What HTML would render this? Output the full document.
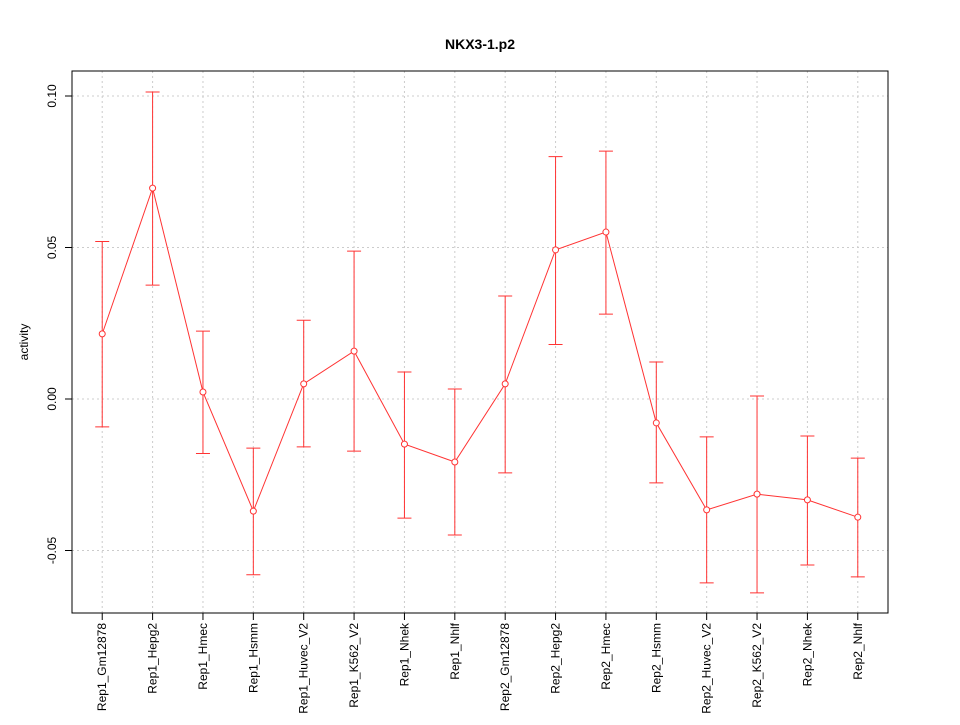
<!DOCTYPE html>
<html><head><meta charset="utf-8"><style>
body{margin:0;background:#fff}
svg text{font-family:"Liberation Sans",sans-serif;font-size:12px;fill:#000}
</style></head><body>
<svg id="chart" width="960" height="720">
<text x="480" y="49" text-anchor="middle" style="font-weight:bold;font-size:14px">NKX3-1.p2</text>
<text transform="translate(28,342) rotate(-90)" text-anchor="middle">activity</text>
<g id="grid"></g><g id="axes"></g><g id="marks"></g>
</svg>
<script>
const categories=["Rep1_Gm12878","Rep1_Hepg2","Rep1_Hmec","Rep1_Hsmm","Rep1_Huvec_V2","Rep1_K562_V2","Rep1_Nhek","Rep1_Nhlf","Rep2_Gm12878","Rep2_Hepg2","Rep2_Hmec","Rep2_Hsmm","Rep2_Huvec_V2","Rep2_K562_V2","Rep2_Nhek","Rep2_Nhlf"];
const values=[0.0215,0.0696,0.0023,-0.037,0.005,0.0158,-0.0149,-0.0208,0.005,0.0492,0.0551,-0.0079,-0.0366,-0.0314,-0.0333,-0.039];
const upper=[0.052,0.1013,0.0224,-0.0162,0.026,0.0488,0.0089,0.0033,0.034,0.080,0.0818,0.0122,-0.0125,0.001,-0.0122,-0.0195];
const lower=[-0.0092,0.0376,-0.018,-0.058,-0.0158,-0.0172,-0.0393,-0.0449,-0.0244,0.018,0.028,-0.0277,-0.0607,-0.064,-0.0548,-0.0587];
const yTicks=[-0.05,0.00,0.05,0.10];
const yTickLabels=["-0.05","0.00","0.05","0.10"];
const NS="http://www.w3.org/2000/svg";
const L=72,R=888,T=71,B=613;
const n=categories.length;
const xs=i=>L+(i+1-0.4)/(n+0.2-0.4+0.4)*(R-L)*0+ (L+(i+0.6)*(R-L)/(n+0.2))-L;
const ys=v=>399-v*3030;
function el(tag,attrs,parent){const e=document.createElementNS(NS,tag);for(const k in attrs)e.setAttribute(k,attrs[k]);parent.appendChild(e);return e;}
const grid=document.getElementById('grid'),axes=document.getElementById('axes'),marks=document.getElementById('marks');
categories.forEach((c,i)=>{
 const g=el('line',{x1:xs(i),x2:xs(i),y1:T,y2:B,stroke:'#ccc','stroke-dasharray':'2,3'},grid);
 
 
 const t=el('line',{x1:xs(i),x2:xs(i),y1:B,y2:B+7,stroke:'#000'},axes);
 
 
 const lb=el('text',{transform:`translate(${xs(i)+4},${B+10}) rotate(-90)`,'text-anchor':'end'},axes);
 lb.textContent=c;
 
 
});
yTicks.forEach((v,i)=>{
 const g=el('line',{x1:L,x2:R,y1:ys(v),y2:ys(v),stroke:'#ccc','stroke-dasharray':'2,3'},grid);
 
 
 const t=el('line',{x1:L-7,x2:L,y1:ys(v),y2:ys(v),stroke:'#000'},axes);
 
 
 const lb=el('text',{transform:`translate(${L-16},${ys(v)}) rotate(-90)`,'text-anchor':'middle'},axes);
 lb.textContent=yTickLabels[i];
 
 
});
const fr=el('rect',{x:L,y:T,width:R-L,height:B-T,fill:'none',stroke:'#000'},axes);


categories.forEach((c,i)=>{
 const x=xs(i);
 const eb=el('path',{d:`M${x},${ys(upper[i])}V${ys(lower[i])}M${x-7},${ys(upper[i])}H${x+7}M${x-7},${ys(lower[i])}H${x+7}`,stroke:'#f33',fill:'none'},marks);
 
 
});
const ln=el('polyline',{points:values.map((v,i)=>xs(i)+','+ys(v)).join(' '),stroke:'#f33',fill:'none'},marks);


values.forEach((v,i)=>{
 const p=el('circle',{cx:xs(i),cy:ys(v),r:3,fill:'#fff',stroke:'#f33'},marks);
 
 
});
</script>
</body></html>
